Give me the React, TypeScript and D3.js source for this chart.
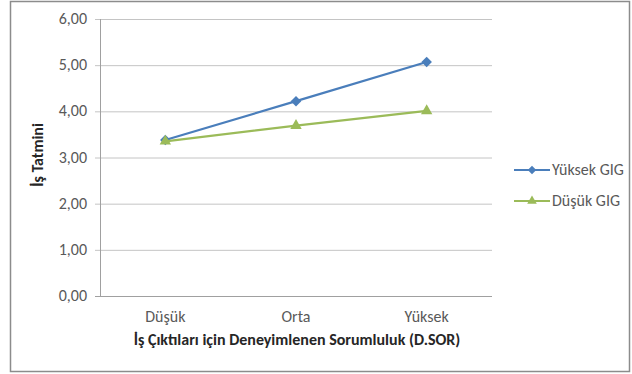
import { useEffect, useRef } from "react";
import * as d3 from "d3";

const categories = ["Düşük", "Orta", "Yüksek"];
const yuksekGIG = [3.38, 4.22, 5.07];
const dusukGIG = [3.35, 3.69, 4.01];
const yTicks = [0, 1, 2, 3, 4, 5, 6];
const seriesNames = ["Yüksek GIG", "Düşük GIG"];

const font = "Carlito, 'Open Sans', sans-serif";
const fs = 16;

export default function App() {
  const svgRef = useRef(null);

  useEffect(() => {
    document.body.style.margin = "0";
    if (!svgRef.current) return;
    const width = 632;
    const height = 374;
    const svg = d3.select(svgRef.current);
    svg.selectAll("*").remove();
    svg.attr("width", width).attr("height", height);

    svg
      .append("rect")
      .attr("x", 0)
      .attr("y", 0)
      .attr("width", width)
      .attr("height", height)
      .attr("fill", "white");

    svg
      .append("rect")
      .attr("x", 10.5)
      .attr("y", 1.5)
      .attr("width", 619)
      .attr("height", 370)
      .attr("fill", "white")
      .attr("stroke", "#8c8c8c")
      .attr("stroke-width", 1.5);

    const x = d3.scaleBand().domain(categories).range([100, 492]);
    const y = d3.scaleLinear().domain([0, 6]).range([296, 19]);
    const fmt = (v) => d3.format(".2f")(v).replace(".", ",");

    // gridlines
    svg
      .append("g")
      .selectAll("line")
      .data(yTicks)
      .join("line")
      .attr("x1", 95)
      .attr("x2", 492)
      .attr("y1", (d) => y(d) + 0.5)
      .attr("y2", (d) => y(d) + 0.5)
      .attr("stroke", (d) => (d === 0 ? "#a0a0a0" : "#c4c4c4"))
      .attr("stroke-width", 1);

    svg
      .append("line")
      .attr("x1", 100.5)
      .attr("x2", 100.5)
      .attr("y1", y(6))
      .attr("y2", y(0))
      .attr("stroke", "#a0a0a0");

    svg
      .append("g")
      .selectAll("text")
      .data(yTicks)
      .join("text")
      .attr("x", 87)
      .attr("y", (d) => y(d) + 5)
      .attr("text-anchor", "end")
      .attr("font-family", font)
      .attr("font-size", fs)
      .attr("fill", "#595959")
      .text(fmt);

    svg
      .append("g")
      .selectAll("text")
      .data(categories)
      .join("text")
      .attr("x", (d) => x(d) + x.bandwidth() / 2)
      .attr("y", 322)
      .attr("text-anchor", "middle")
      .attr("font-family", font)
      .attr("font-size", fs)
      .attr("fill", "#595959")
      .text((d) => d);

    svg
      .append("text")
      .attr("x", 297)
      .attr("y", 345)
      .attr("text-anchor", "middle")
      .attr("font-family", font)
      .attr("font-size", fs)
      .attr("font-weight", "bold")
      .attr("fill", "#262626")
      .text("İş Çıktıları için Deneyimlenen Sorumluluk (D.SOR)");

    svg
      .append("text")
      .attr("transform", `translate(43,155) rotate(-90)`)
      .attr("text-anchor", "middle")
      .attr("font-family", font)
      .attr("font-size", fs)
      .attr("font-weight", "bold")
      .attr("fill", "#262626")
      .text("İş Tatmini");

    const series = [
      { name: seriesNames[0], values: yuksekGIG, color: "#4a7ebb", symbol: d3.symbolSquare, rot: 45 },
      { name: seriesNames[1], values: dusukGIG, color: "#9bbb59", symbol: d3.symbolTriangle, rot: 0 },
    ];

    const line = d3
      .line()
      .x((d, i) => x(categories[i]) + x.bandwidth() / 2)
      .y((d) => y(d));

    series.forEach((s, si) => {
      svg
        .append("path")
        .datum(s.values)
        .attr("d", line)
        .attr("fill", "none")
        .attr("stroke", s.color)
        .attr("stroke-width", 2.2);

      svg
        .append("g")
        .selectAll("path")
        .data(s.values)
        .join("path")
        .attr(
          "transform",
          (d, i) => `translate(${x(categories[i]) + x.bandwidth() / 2},${y(d)}) rotate(${s.rot})`
        )
        .attr("d", d3.symbol().type(s.symbol).size(si === 0 ? 56 : 56))
        .attr("fill", s.color);

      const ly = 170 + si * 31;
      svg
        .append("line")
        .attr("x1", 514)
        .attr("x2", 550)
        .attr("y1", ly)
        .attr("y2", ly)
        .attr("stroke", s.color)
        .attr("stroke-width", 2.2);
      svg
        .append("path")
        .attr("transform", `translate(532,${ly}) rotate(${s.rot})`)
        .attr("d", d3.symbol().type(s.symbol).size(si === 0 ? 36 : 40))
        .attr("fill", s.color);
      svg
        .append("text")
        .attr("x", 552)
        .attr("y", ly + 5)
        .attr("font-family", font)
        .attr("font-size", fs)
        .attr("fill", "#595959")
        .text(s.name);
    });
  }, []);

  return <svg ref={svgRef} style={{ display: "block" }} />;
}
